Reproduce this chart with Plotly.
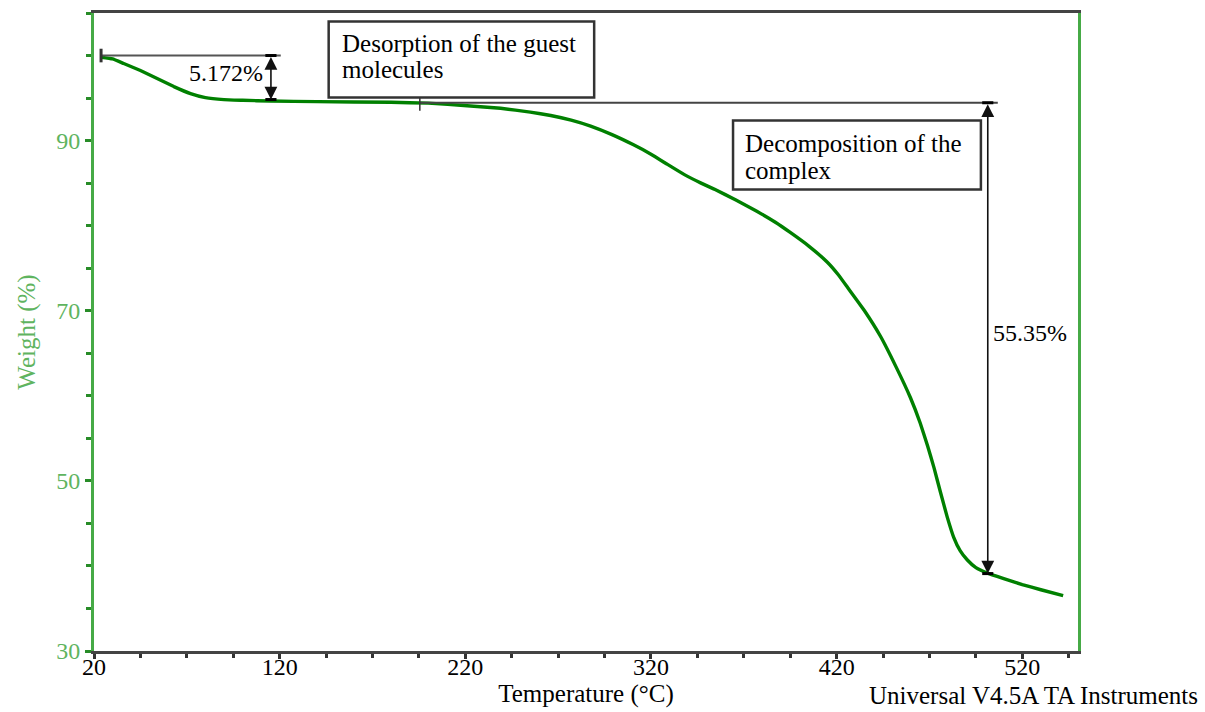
import plotly.graph_objects as go

# ---- data ----
temperature = [23.8, 30, 36, 45, 54, 63, 72, 80, 90, 100, 115, 140, 180, 200, 221, 239,
               255, 266, 277, 287.5, 299, 310.6, 320, 328.9, 338, 347, 354, 366, 377, 387,
               395, 405, 415, 421, 426, 435, 443.6, 452, 459.7, 465, 469, 472.5, 476, 479.5,
               483, 486.5, 490.4, 495, 501.2, 510, 520, 530, 542]
weight = [99.8, 99.6, 99.06, 98.24, 97.3, 96.35, 95.53, 95.06, 94.82, 94.74, 94.65, 94.58, 94.5, 94.4,
          94.1, 93.8, 93.35, 92.95, 92.4, 91.7, 90.7, 89.5, 88.4, 87.2, 86.0, 85.0, 84.3, 83.0,
          81.7, 80.4, 79.2, 77.6, 75.7, 74.2, 72.7, 70.0, 67.0, 63.4, 59.8, 56.8, 54.1, 51.5,
          48.6, 45.8, 43.4, 41.8, 40.7, 39.8, 39.15, 38.5, 37.8, 37.2, 36.5]

x_ticks = [20, 120, 220, 320, 420, 520]
y_ticks = [30, 50, 70, 90]

# step annotations
step1_start_T = 23.8
step1_end_T = 120.6
step1_arrow_T = 115.3
step1_top = 100.0
step1_loss = 5.172
step1_label = "5.172%"

step2_start_T = 195.5
step2_end_T = 506.8
step2_arrow_T = 501.4
step2_top = 94.45
step2_loss = 55.35
step2_label = "55.35%"

box1_lines = ["Desorption of the guest", "molecules"]
box2_lines = ["Decomposition of the", "complex"]

FONT = "Liberation Serif"
GREEN_TXT = "rgb(95,180,95)"
GREEN_AX = "rgb(70,170,70)"
CURVE = "rgb(0,128,0)"
DARK = "#333333"

fig = go.Figure()
fig.add_trace(go.Scatter(x=temperature, y=weight, mode="lines",
                         line=dict(color=CURVE, width=3.4, shape="spline", smoothing=0.3),
                         showlegend=False, hoverinfo="skip"))

shapes = []
annotations = []

# step 1: horizontal reference line and end bar
shapes.append(dict(type="line", xref="x", yref="y", x0=step1_start_T, x1=step1_end_T,
                   y0=step1_top, y1=step1_top, line=dict(color="#555", width=2)))
shapes.append(dict(type="line", xref="x", yref="y", x0=step1_start_T, x1=step1_start_T,
                   y0=step1_top - 0.8, y1=step1_top + 0.8, line=dict(color=DARK, width=3)))
for yy in (step1_top, step1_top - step1_loss):
    shapes.append(dict(type="line", xref="x", yref="y", x0=step1_arrow_T - 3, x1=step1_arrow_T + 3,
                       y0=yy, y1=yy, line=dict(color="black", width=3)))
annotations.append(dict(x=step1_arrow_T, y=step1_top - step1_loss, ax=step1_arrow_T, ay=step1_top,
                        xref="x", yref="y", axref="x", ayref="y", text="", showarrow=True,
                        arrowhead=2, startarrowhead=2, arrowside="end+start", arrowsize=1.6,
                        arrowwidth=1.6, arrowcolor="#111"))
annotations.append(dict(x=112.3, y=98.0, xref="x", yref="y", text=step1_label, showarrow=False,
                        xanchor="right", yanchor="middle", font=dict(family=FONT, size=24, color="black")))

# step 2
shapes.append(dict(type="line", xref="x", yref="y", x0=step2_start_T, x1=step2_end_T,
                   y0=step2_top, y1=step2_top, line=dict(color="#444", width=2)))
shapes.append(dict(type="line", xref="x", yref="y", x0=step2_start_T, x1=step2_start_T,
                   y0=step2_top - 0.95, y1=step2_top + 0.8, line=dict(color=DARK, width=1.5)))
for yy in (step2_top, step2_top - step2_loss):
    shapes.append(dict(type="line", xref="x", yref="y", x0=step2_arrow_T - 3, x1=step2_arrow_T + 3,
                       y0=yy, y1=yy, line=dict(color="black", width=3)))
annotations.append(dict(x=step2_arrow_T, y=step2_top - step2_loss, ax=step2_arrow_T, ay=step2_top,
                        xref="x", yref="y", axref="x", ayref="y", text="", showarrow=True,
                        arrowhead=2, startarrowhead=2, arrowside="end+start", arrowsize=1.6,
                        arrowwidth=1.6, arrowcolor="#111"))
annotations.append(dict(x=503.0, y=67.4, xref="x", yref="y", text=step2_label, showarrow=False,
                        xanchor="left", yanchor="middle", font=dict(family=FONT, size=24, color="black")))

# boxes
shapes.append(dict(type="rect", xref="x", yref="y", x0=146.4, x1=289.4, y0=95.06, y1=104.0,
                   fillcolor="white", line=dict(color=DARK, width=2.5), layer="above"))
shapes.append(dict(type="rect", xref="x", yref="y", x0=364.2, x1=497.7, y0=84.24, y1=92.35,
                   fillcolor="white", line=dict(color=DARK, width=2.5), layer="above"))
for txt, yy in zip(box1_lines, (101.4, 98.35)):
    annotations.append(dict(x=152.6, y=yy, xref="x", yref="y", text=txt, showarrow=False,
                            xanchor="left", yanchor="middle",
                            font=dict(family=FONT, size=25, color="black")))
for txt, yy in zip(box2_lines, (89.65, 86.47)):
    annotations.append(dict(x=369.6, y=yy, xref="x", yref="y", text=txt, showarrow=False,
                            xanchor="left", yanchor="middle",
                            font=dict(family=FONT, size=25, color="black")))

annotations.append(dict(x=1.124, y=-0.069, xref="paper", yref="paper",
                        text="Universal V4.5A TA Instruments", showarrow=False,
                        xanchor="right", yanchor="middle",
                        font=dict(family=FONT, size=25, color="black")))

fig.update_layout(
    width=1205, height=712,
    margin=dict(l=94, r=127, t=13, b=61),
    paper_bgcolor="white", plot_bgcolor="white",
    shapes=shapes, annotations=annotations,
    xaxis=dict(range=[20, 550], tickvals=x_ticks, ticktext=[str(v) for v in x_ticks],
               automargin=False, ticklabelstandoff=-13,
               showgrid=False, zeroline=False, showline=True, linecolor="#444", linewidth=2.5,
               mirror=True, ticks="outside", ticklen=5, tickwidth=2.5, tickcolor="#333",
               minor=dict(dtick=25, tick0=20, ticks="outside", ticklen=4, tickwidth=2.5,
                          tickcolor="#333", showgrid=False),
               tickfont=dict(family=FONT, size=24, color="black"),
               title=dict(text="Temperature (°C)", standoff=4,
                          font=dict(family=FONT, size=25, color="black"))),
    yaxis=dict(range=[30, 105], tickvals=y_ticks, ticktext=[str(v) for v in y_ticks],
               automargin=False,
               showgrid=False, zeroline=False, showline=True, linecolor=GREEN_AX, linewidth=3,
               mirror=True, ticks="outside", ticklen=6, tickwidth=2.5, tickcolor="rgb(40,140,40)",
               minor=dict(dtick=5, tick0=30, ticks="outside", ticklen=5, tickwidth=2.5,
                          tickcolor="rgb(40,140,40)", showgrid=False),
               tickfont=dict(family=FONT, size=24, color=GREEN_TXT),
               title=dict(text="Weight (%)", standoff=14,
                          font=dict(family=FONT, size=25, color=GREEN_TXT))),
)

fig.write_html("out.html")
